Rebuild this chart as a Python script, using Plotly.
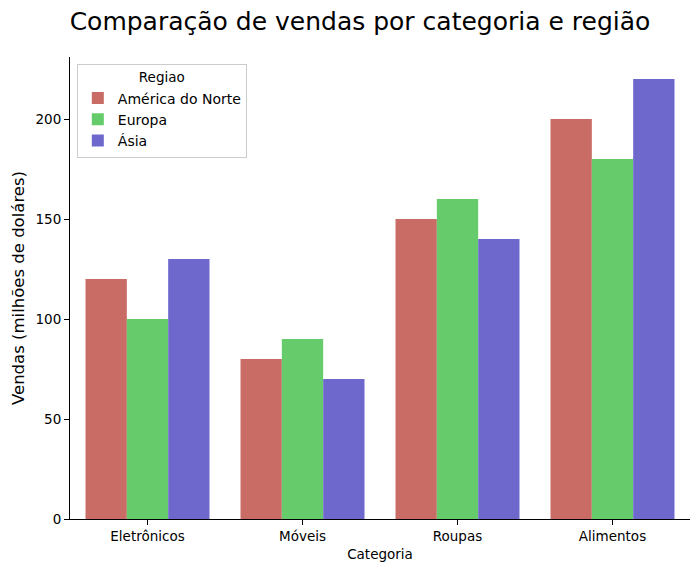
import plotly.graph_objects as go

categorias = ["Eletrônicos", "Móveis", "Roupas", "Alimentos"]
regioes = ["América do Norte", "Europa", "Ásia"]
america_norte = [120, 80, 150, 200]
europa = [100, 90, 160, 180]
asia = [130, 70, 140, 220]
cores = ["#c96c66", "#66cc6b", "#6e68cc"]

series = [america_norte, europa, asia]

fig = go.Figure()
for nome, vals, cor in zip(regioes, series, cores):
    fig.add_trace(go.Bar(x=categorias, y=vals, name=nome, marker=dict(color=cor, line=dict(width=0))))

font = "DejaVu Sans"
fig.update_layout(
    width=699, height=572,
    margin=dict(l=62, r=17, t=49, b=61, autoexpand=False),
    paper_bgcolor="white", plot_bgcolor="white",
    barmode="group", bargap=0.2, bargroupgap=0,
    font=dict(family=font, size=13, color="black"),
    title=dict(text="Comparação de vendas por categoria e região", x=352 / 699, xanchor="center",
               y=1 - 13 / 572, yanchor="middle", font=dict(size=25, family=font, color="black")),
    xaxis=dict(range=[-0.5, 3.5], showline=True, linecolor="black", linewidth=1,
               ticks="outside", ticklen=5, tickcolor="black", showgrid=False, automargin=False,
               title=dict(text="Categoria", font=dict(size=13.5), standoff=6),
               tickfont=dict(size=13.5)),
    yaxis=dict(range=[0, 231], showline=True, linecolor="black", linewidth=1,
               ticks="outside", ticklen=5, tickcolor="black", showgrid=False, zeroline=False,
               tickvals=[0, 50, 100, 150, 200], automargin=False,
               title=dict(text="Vendas (milhões de doláres)", font=dict(size=16.5), standoff=6),
               tickfont=dict(size=13.5)),
    legend=dict(x=0.011, y=0.985, xanchor="left", yanchor="top",
                bgcolor="white", bordercolor="#cccccc", borderwidth=1,
                title=dict(text="Regiao", side="top center", font=dict(size=13.5)),
                font=dict(size=14), tracegroupgap=0, itemwidth=30),
    showlegend=True,
)

fig.write_html("out.html")
